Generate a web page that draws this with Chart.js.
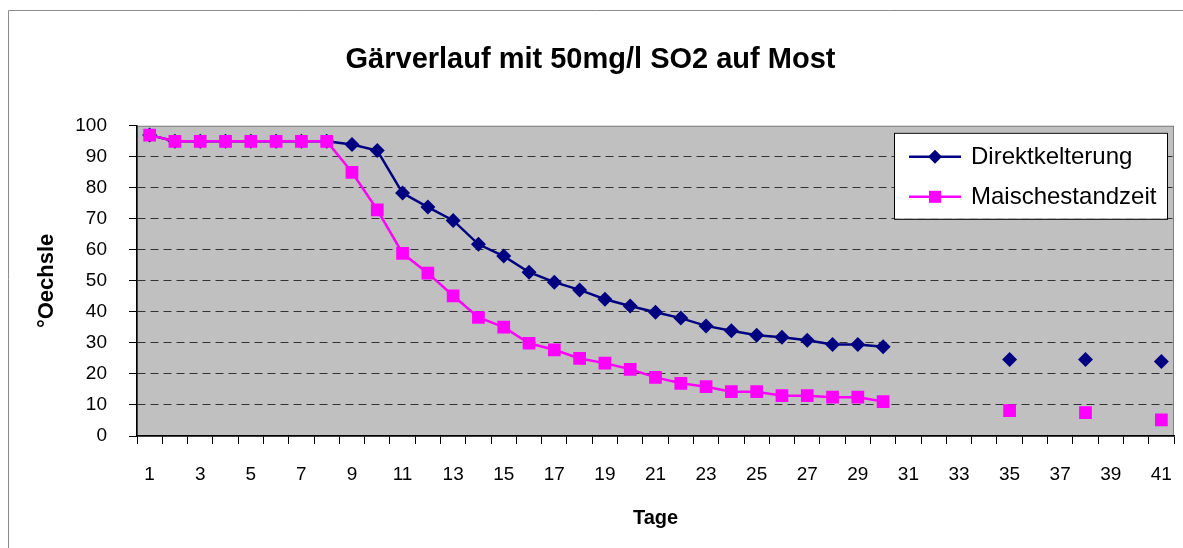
<!DOCTYPE html>
<html>
<head>
<meta charset="utf-8">
<script src="https://cdn.jsdelivr.net/npm/chart.js@4.4.1/dist/chart.umd.min.js"></script>
<style>
  body { margin: 0; background: #fff; }
  #wrap { width: 1183px; height: 548px; }
</style>
</head>
<body>
<div id="wrap"><canvas id="myChart" width="1183" height="548"></canvas></div>
<script>
// Tage 1..41 (Messungen fehlen an einigen Tagen)
const days = ['1','2','3','4','5','6','7','8','9','10','11','12','13','14','15','16','17','18','19','20',
  '21','22','23','24','25','26','27','28','29','30','31','32','33','34','35','36','37','38','39','40','41'];

const direktkelterung = [97, 95, 95, 95, 95, 95, 95, 95, 94, 92, 78.3, 73.8, 69.5, 61.8, 58, 52.8, 49.6, 47.1, 44.1, 41.9,
  39.9, 38, 35.5, 33.9, 32.5, 31.8, 30.9, 29.5, 29.5, 28.8, null, null, null, null, 24.7, null, null, 24.7, null, null, 24];

const maischestandzeit = [97, 95, 95, 95, 95, 95, 95, 95, 85, 72.9, 58.9, 52.5, 45.2, 38.2, 35.1, 29.9, 27.8, 25, 23.5, 21.5,
  18.9, 17, 15.9, 14.3, 14.3, 13, 13, 12.5, 12.5, 11.1, null, null, null, null, 8.2, null, null, 7.5, null, null, 5.2];

const yTicks = [0, 10, 20, 30, 40, 50, 60, 70, 80, 90, 100];

const FONT = "'Liberation Sans', Arial, sans-serif";

// white page, gray frame, gray plot background
const background = {
  id: 'background',
  beforeDraw(chart) {
    const ctx = chart.ctx;
    const a = chart.chartArea;
    ctx.save();
    ctx.fillStyle = '#fff';
    ctx.fillRect(0, 0, chart.width, chart.height);
    ctx.strokeStyle = '#8c8c8c';
    ctx.lineWidth = 1;
    ctx.beginPath();
    ctx.moveTo(8.5, chart.height);
    ctx.lineTo(8.5, 10.5);
    ctx.lineTo(chart.width, 10.5);
    ctx.stroke();
    ctx.fillStyle = '#c0c0c0';
    ctx.fillRect(a.left, a.top, a.right - a.left, a.bottom - a.top);
    ctx.strokeStyle = '#808080';
    ctx.strokeRect(a.left + 0.5, a.top + 0.5, a.right - a.left - 1, a.bottom - a.top);
    ctx.restore();
  }
};

// legend box inside the plot, top right
const boxLegend = {
  id: 'boxLegend',
  afterDraw(chart) {
    const ctx = chart.ctx;
    const a = chart.chartArea;
    const x = a.right - 280, y = a.top + 7, w = 273, h = 86;
    ctx.save();
    ctx.fillStyle = '#fff';
    ctx.fillRect(x, y, w, h);
    ctx.strokeStyle = '#000';
    ctx.lineWidth = 1;
    ctx.strokeRect(x + 0.5, y + 0.5, w, h);
    chart.data.datasets.forEach((ds, i) => {
      const ry = y + 24 + i * 40;
      ctx.strokeStyle = ds.borderColor;
      ctx.lineWidth = 2.5;
      ctx.beginPath();
      ctx.moveTo(x + 15, ry);
      ctx.lineTo(x + 67, ry);
      ctx.stroke();
      ctx.fillStyle = ds.borderColor;
      const mx = x + 41;
      if (ds.pointStyle === 'rectRot') {
        const r = 7;
        ctx.beginPath();
        ctx.moveTo(mx - r, ry);
        ctx.lineTo(mx, ry - r);
        ctx.lineTo(mx + r, ry);
        ctx.lineTo(mx, ry + r);
        ctx.closePath();
        ctx.fill();
      } else {
        ctx.fillRect(mx - 6, ry - 6, 12, 12);
      }
      ctx.fillStyle = '#000';
      ctx.font = '24px ' + FONT;
      ctx.textBaseline = 'middle';
      ctx.fillText(ds.label, x + 77, ry + 1);
    });
    ctx.restore();
  }
};

const ctx = document.getElementById('myChart').getContext('2d');
const myChart = new Chart(ctx, {
  type: 'line',
  data: {
    labels: days,
    datasets: [{
      label: 'Direktkelterung',
      data: direktkelterung,
      borderColor: '#000080',
      backgroundColor: '#000080',
      borderWidth: 2.5,
      pointStyle: 'rectRot',
      pointRadius: 7.5,
      pointBorderWidth: 0,
      spanGaps: false,
      tension: 0,
      order: 1
    }, {
      label: 'Maischestandzeit',
      data: maischestandzeit,
      borderColor: '#ff00ff',
      backgroundColor: '#ff00ff',
      borderWidth: 2.5,
      pointStyle: 'rect',
      pointRadius: 9,
      pointBorderWidth: 0,
      spanGaps: false,
      tension: 0,
      order: 0
    }]
  },
  options: {
    responsive: false,
    animation: false,
    layout: { padding: { left: 0, right: 2, top: 0, bottom: 0 } },
    plugins: {
      legend: { display: false },
      tooltip: { enabled: false },
      title: {
        display: true,
        text: 'Gärverlauf mit 50mg/l SO2 auf Most',
        color: '#000',
        font: { family: FONT, size: 29, weight: 'bold' },
        padding: { top: 43, bottom: 48 }
      }
    },
    scales: {
      x: {
        offset: true,
        grid: { drawOnChartArea: false, drawTicks: true, tickLength: 8, tickColor: '#000', offset: true },
        border: { color: '#000', width: 1.5 },
        ticks: {
          autoSkip: false,
          maxRotation: 0,
          color: '#000',
          padding: 19,
          font: { family: FONT, size: 19 },
          callback: function(value, index) {
            return index % 2 === 0 ? days[index] : '';
          }
        },
        title: {
          display: true,
          text: 'Tage',
          color: '#000',
          font: { family: FONT, size: 20, weight: 'bold' },
          padding: { top: 0, bottom: 18 }
        },
        afterFit: function(scale) {
          scale.height = 112;
          // labels sit in the middle of their categories, no side padding needed
          scale.paddingLeft = 0;
          scale.paddingRight = 0;
        }
      },
      y: {
        min: 0,
        max: 100,
        afterBuildTicks: function(scale) { scale.ticks = yTicks.map(v => ({ value: v })); },
        grid: {
          color: (c) => (c.tick && (c.tick.value === 0 || c.tick.value === 100)) ? 'rgba(0,0,0,0)' : '#333',
          lineWidth: 1,
          tickLength: 8,
          tickColor: '#000'
        },
        border: { color: '#000', width: 1.5, dash: [8, 5] },
        ticks: {
          color: '#000',
          padding: 22,
          font: { family: FONT, size: 19 }
        },
        title: {
          display: true,
          text: '°Oechsle',
          color: '#000',
          font: { family: FONT, size: 22, weight: 'bold' },
          padding: { top: 34, bottom: 0 }
        },
        afterFit: function(scale) { scale.width = 137; }
      }
    }
  },
  plugins: [background, boxLegend]
});
</script>
</body>
</html>
